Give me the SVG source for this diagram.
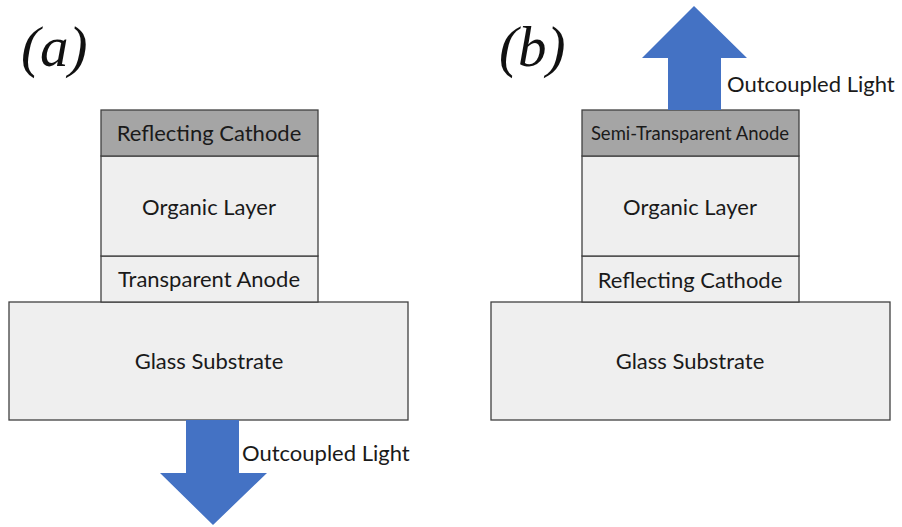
<svg xmlns="http://www.w3.org/2000/svg" width="902" height="527" viewBox="0 0 902 527">
<style>
.dark{fill:#a5a5a5;stroke:#404040;stroke-width:1.3}
.light{fill:#efefef;stroke:#404040;stroke-width:1.3}
.t{font-family:Lato,"Open Sans",sans-serif;font-size:22px;fill:#1a1a1a;text-anchor:middle}
.s{font-size:18.5px}
.lbl{font-family:Lato,"Open Sans",sans-serif;font-size:22px;fill:#1a1a1a}
.cap{font-family:"Liberation Serif",serif;font-style:italic;font-size:57px;fill:#111}
.arrow{fill:#4472c4}
</style>
<rect width="902" height="527" fill="#fff"/>
<text class="cap" x="21" y="66">(a)</text>
<text class="cap" x="499" y="66">(b)</text>
<g id="a-glass"><rect class="light" x="9" y="302" width="399" height="118"/><text class="t" x="209" y="369">Glass Substrate</text></g>
<g id="a-anode"><rect class="light" x="101" y="256" width="217" height="46"/><text class="t" x="209" y="287">Transparent Anode</text></g>
<g id="a-organic"><rect class="light" x="101" y="156" width="217" height="100"/><text class="t" x="209" y="215">Organic Layer</text></g>
<g id="a-cathode"><rect class="dark" x="101" y="110" width="217" height="46"/><text class="t" x="209" y="141">Reflecting Cathode</text></g>
<g id="b-glass"><rect class="light" x="491" y="302" width="399" height="118"/><text class="t" x="690" y="369">Glass Substrate</text></g>
<g id="b-cathode"><rect class="light" x="582" y="256" width="217" height="46"/><text class="t" x="690" y="288">Reflecting Cathode</text></g>
<g id="b-organic"><rect class="light" x="582" y="156" width="217" height="100"/><text class="t" x="690" y="215">Organic Layer</text></g>
<g id="b-anode"><rect class="dark" x="582" y="110" width="217" height="46"/><text class="t s" x="690" y="140">Semi-Transparent Anode</text></g>
<g id="connectors">
<polygon class="arrow" points="186,420 239,420 239,473 267,473 213,525 160,473 186,473"/>
<polygon class="arrow" points="668,110 721,110 721,58 747,58 694,6 642,58 668,58"/>
</g>
<text class="lbl" x="242" y="461">Outcoupled Light</text>
<text class="lbl" x="727" y="92">Outcoupled Light</text>
</svg>
